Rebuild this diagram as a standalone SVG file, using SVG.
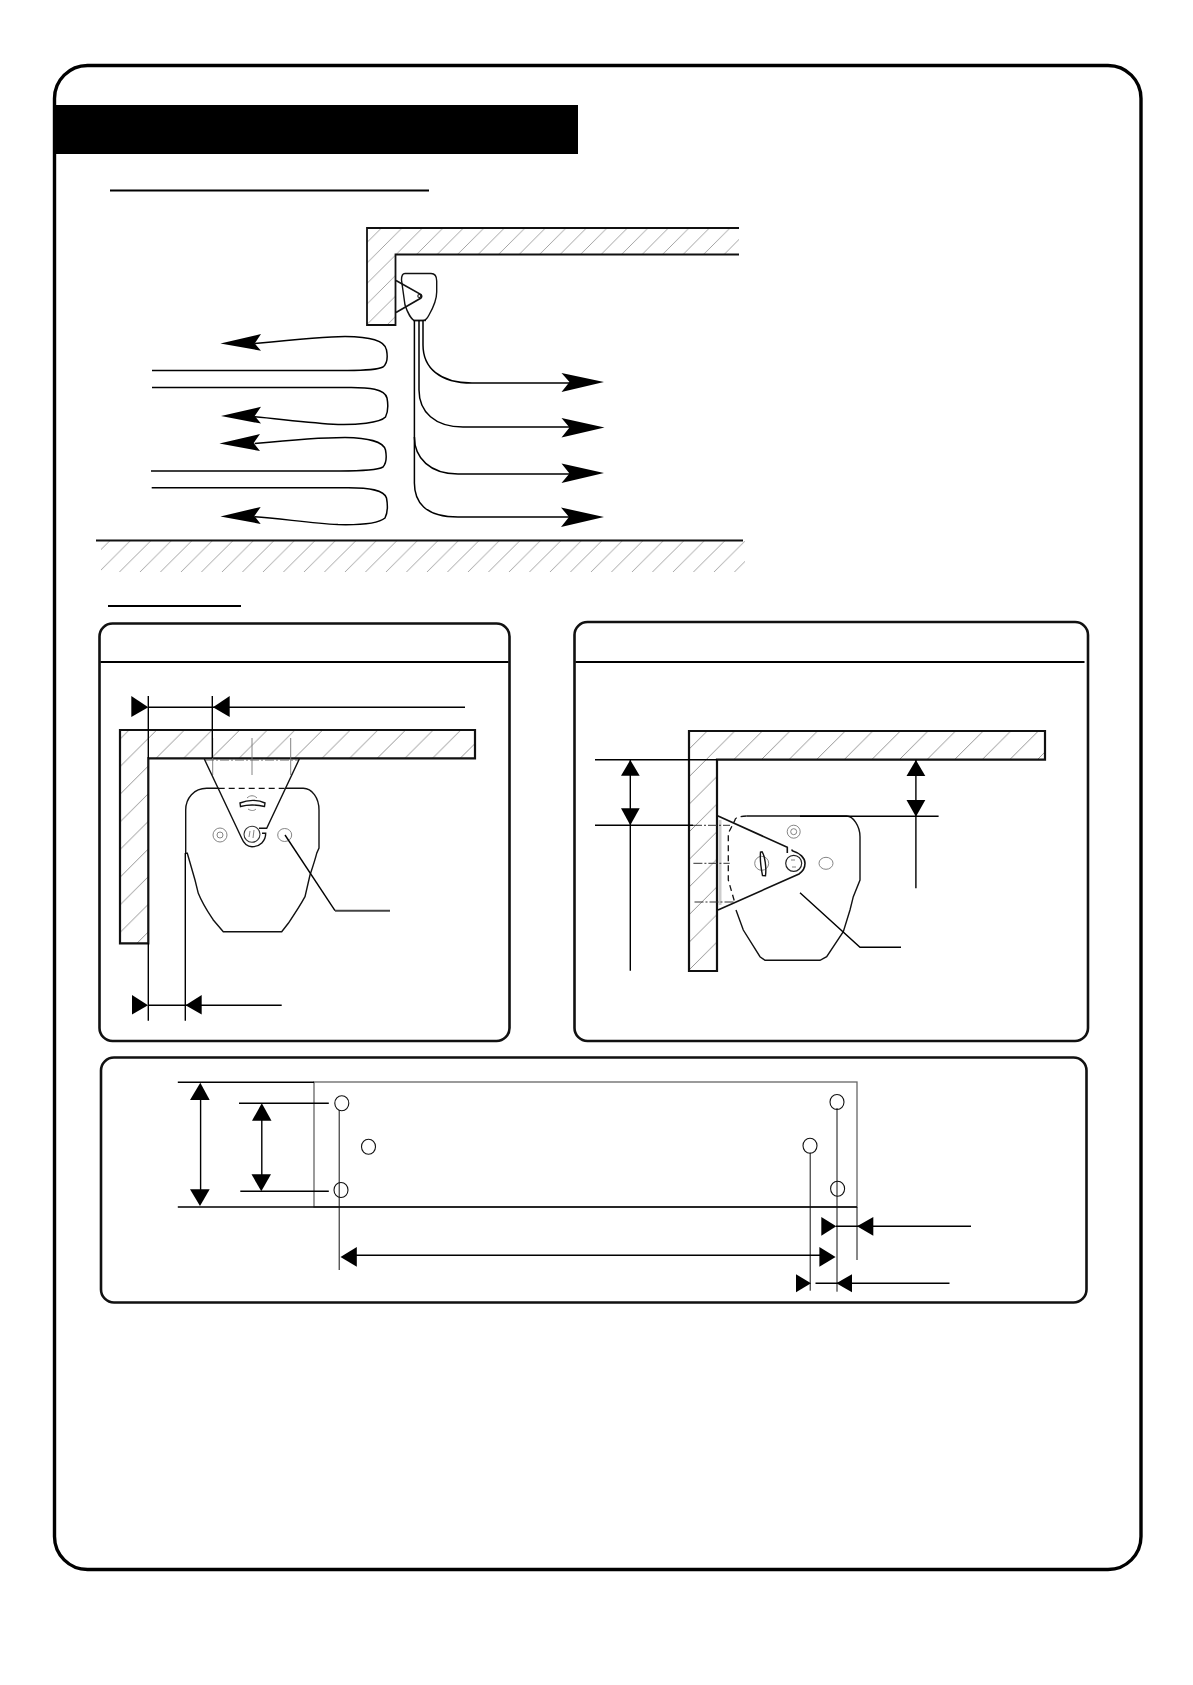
<svg xmlns="http://www.w3.org/2000/svg" width="1193" height="1685" viewBox="0 0 1193 1685">
<style>
.frame{fill:none;stroke:#000;stroke-width:3.4}
.panel{fill:#fff;stroke:#111;stroke-width:2.6}
.rule{stroke:#000;stroke-width:2.2;fill:none}
.ln{fill:none;stroke:#000;stroke-width:1.4}
.flow{fill:none;stroke:#000;stroke-width:1.5}
.thin{fill:none;stroke:#111;stroke-width:1}
.out{fill:none;stroke:#111;stroke-width:1.4}
.gr{fill:none;stroke:#777;stroke-width:.9}
.dash{fill:none;stroke:#111;stroke-width:1.3;stroke-dasharray:6 4}
.dashg{fill:none;stroke:#666;stroke-width:1;stroke-dasharray:9 2 2 2}
.head{fill:#000;stroke:none}
.hole{fill:#fff;stroke:#111;stroke-width:1.1}
</style>
<defs>
<pattern id="hatch" patternUnits="userSpaceOnUse" width="20.500" height="20.500" patternTransform="translate(15 0)"><path d="M-2 22.500L22.500 -2" stroke="#999" stroke-width=".9"/></pattern>
<pattern id="hatch2" patternUnits="userSpaceOnUse" width="27.650" height="27.650" patternTransform="translate(1.900 0)"><path d="M-2 29.650L29.650 -2" stroke="#888" stroke-width=".9"/></pattern>
<pattern id="hatch3" patternUnits="userSpaceOnUse" width="27.600" height="27.600" patternTransform="translate(3 0)"><path d="M-2 29.600L29.600 -2" stroke="#888" stroke-width=".9"/></pattern>
</defs>
<rect width="1193" height="1685" fill="#fff"/>
<rect class="frame" x="54.500" y="65.500" width="1086.500" height="1504" rx="33"/>
<g id="title"><rect x="56" y="105" width="522" height="49" fill="#000"/></g>
<g id="underline-1"><path class="rule" d="M110 190.500H429"/></g>
<g id="underline-2"><path class="rule" d="M108 606H241"/></g>

<g id="room">
<path fill="url(#hatch)" d="M367 228H739V254.500H395.500V325H367Z"/>
<path class="out" style="stroke-width:1.8" d="M739 228H367V325H395.500V254.500H739"/>
</g>
<g id="unit-side">
<path class="out" fill="#fff" d="M405 273.500H431C435 273.500 436.700 276 436.700 281V292C436.700 300 433 308 429 315C427 319 425 320.500 423 320.500H414C411 319 407 311 405 305L401.500 280C401.500 276 403 273.500 405 273.500Z"/>
<path class="out" style="stroke-width:1.6" fill="#fff" d="M396 280.500L421 294.500C422 296 422 297 421 298L396 312.500"/>
<circle class="out" style="stroke-width:1.1" cx="419.300" cy="296" r="1.500"/>
<path class="out" d="M413.500 320.500H426"/>
</g>
<g id="floor">
<rect x="101" y="541" width="644" height="31" fill="url(#hatch)"/>
<path d="M96 540.500H743" stroke="#111" stroke-width="2.2"/>
</g>

<g id="connectors-flow">
<path class="flow" d="M254.700 343.600C300 339 325 336.500 345 336.500C370 337 385 340 386.500 350C388 358 387 364 383 367C375 371 355 370.400 340 370.400H152"/>
<path class="flow" d="M152 387.500H345C370 387 385 389 387 398C388.500 406 388 412 385.500 417C380 423 355 425 338 424.500C310 423 280 419 254.700 416.800"/>
<path class="flow" d="M254.700 443.600C300 439 325 437.500 345 437.500C368 438 383 441 385.500 450C387 458 386.500 463 383 467C376 471 355 471 340 471H151"/>
<path class="flow" d="M151.700 487.800H345C370 487.500 384 490 386.500 498C388 506 388 512 385 518C378 524 355 525 338 524.600C310 523 280 518.500 254.700 516.800"/>
<polygon class="head" points="220.400,343.600 261,334 254.700,343.600 261,350.700"/>
<polygon class="head" points="221,416 261,406.800 254.700,416 261,423.600"/>
<polygon class="head" points="219.400,443.600 260,434 253.700,443 260,451"/>
<polygon class="head" points="220.400,516.400 260.700,507 254.400,516 260.700,524"/>
<path class="flow" d="M423 320.500V345C423 368 440 383 472 383H570"/>
<path class="flow" d="M419 320.500V390C419 412 435 427 463 427H570"/>
<path class="flow" d="M414.400 320.500V437C414.400 458 430 474 458 474H570"/>
<path class="flow" d="M414.400 437V482C414 502 425 517 458 517H570"/>
<polygon class="head" points="604,382 561.500,373 569.500,382 561.500,392"/>
<polygon class="head" points="604.500,427.500 561.500,418 569.500,427.500 561.500,437.500"/>
<polygon class="head" points="604,473 561.500,463.600 569.500,473.500 561.500,483"/>
<polygon class="head" points="604,517 561,507.500 569,517 561,527"/>
</g>

<g id="panel-ceiling">
<rect class="panel" x="99.500" y="623.500" width="410" height="417.500" rx="13"/>
<path class="rule" d="M100.500 662H508.500"/>
<path fill="url(#hatch2)" d="M120 730H475V758.300H148.300V943.300H120Z"/>
<path class="out" style="stroke-width:2.2" d="M120 730H475V758.300H148.300V943.300H120Z"/>
<path class="gr" d="M212.700 738V775M252 738V775M290.700 738V775"/>
<path class="dashg" d="M205 760H299"/>
<path class="dash" d="M218.700 788.300H285.700"/>
<path class="out" d="M218.700 788.300H206.700C194 788.300 185.700 798 185.700 810V853.300H187.300L195 880L198.300 893.300C203 905 208 912 213.300 920L223.300 931.700H281.700L288.300 923.300C296 912 301 904 305 896.700L310 875C313 866 315 860 316.700 853.300L319 848V810C319 798 312 788.300 303.300 788.300H285.700"/>
<circle cx="252" cy="834.300" r="8" fill="#fff" stroke="#333" stroke-width="1.100"/>
<path class="gr" d="M250 831L249 837M254 830L253 838"/>
<path class="out" d="M204.300 759L241.700 838.300C244 844 248 846.700 252 846.700C260 846.700 265.700 841 265.700 833.300H262M259 828.300H266.700L299.300 759"/>
<path class="out" d="M240 803C248 799.500 258 799.500 265 803L264.500 806.500C256 804.500 248 804.500 240.500 806.500Z"/>
<path class="gr" d="M247 798C250 795 254 795 257 798M248 809C251 811 254 811 256 809"/>
<circle class="gr" cx="220" cy="835" r="7"/><circle class="gr" cx="220" cy="835" r="3"/>
<ellipse class="gr" cx="284.700" cy="835" rx="7" ry="6.500"/>
</g>

<g id="panel-wall">
<rect class="panel" x="574.500" y="622" width="513.500" height="419" rx="13"/>
<path class="rule" d="M575.500 662H1084.500"/>
<path fill="url(#hatch3)" d="M689 731H1045V759.700H717V971H689Z"/>
<path class="out" style="stroke-width:2.2" d="M689 731H1045V759.700H717V971H689Z"/>
<path d="M720 820V905" stroke="#ccc" stroke-width="3" fill="none"/>
<path class="dashg" style="stroke:#333" d="M693 825.300H730M693.400 863.300H729.700M694.500 902H735.500"/>
<path class="dash" d="M746.700 816C739 816 735 818 735 820L728.300 833.300V880L735 903.300"/>
<path class="out" d="M736 910L743.300 930L760 956.700L765 960.300H820L826.700 956.700L843.300 931.700L850 910L853.300 896.700L860 880V836.700C860 826 853 816 846.700 816H746.700"/>
<circle cx="793.700" cy="863.300" r="8" fill="#fff" stroke="#222" stroke-width="1.200"/>
<path class="gr" d="M791 860H795M792 867H796"/>
<path class="out" style="stroke-width:1.6" d="M717.500 815.700L787.300 847.300V853M791.700 849.500L792.300 850.700C800 853 805 858 805 863.300C805 868 802 872 799 874L718 910"/>
<ellipse class="gr" cx="761.700" cy="863.300" rx="7" ry="7"/>
<path class="out" d="M762 851.700C765 856 766.500 868 765.500 875.700L762.500 875.500C761 868 760 858 760.500 852Z"/>
<circle class="gr" cx="793.700" cy="831.700" r="6.500"/><circle class="gr" cx="793.700" cy="831.700" r="3"/>
<ellipse class="gr" cx="826" cy="863.300" rx="7" ry="6"/>
</g>

<g id="panel-holes">
<rect class="panel" x="101" y="1057.500" width="985.500" height="245" rx="13"/>
<rect x="314" y="1082" width="543" height="125" fill="#fff" stroke="#666" stroke-width="1.300"/>
<ellipse class="hole" cx="341.800" cy="1103.300" rx="7" ry="7.500"/>
<ellipse class="hole" cx="341" cy="1190" rx="7" ry="7.500"/>
<ellipse class="hole" cx="368.500" cy="1146.700" rx="7" ry="7.500"/>
<ellipse class="hole" cx="810" cy="1145.700" rx="7" ry="7.500"/>
<ellipse class="hole" cx="837" cy="1102" rx="7" ry="7.500"/>
<ellipse class="hole" cx="837.600" cy="1188.700" rx="7" ry="7.500"/>
</g>

<g id="connectors-dimensions">
<path class="ln" d="M148.300 696V758M212.300 696V758M148.300 707.300H465"/>
<polygon class="head" points="131.300,696 148.300,707.300 131.300,717"/>
<polygon class="head" points="213,707.300 229.700,696 229.700,717"/>
<path class="ln" d="M148.300 943V1020.700M185.300 853V1020.700M148.300 1005.300H281.700"/>
<polygon class="head" points="132,995 148,1005.300 132,1014.500"/>
<polygon class="head" points="185.500,1005.300 201.700,995 201.700,1014.500"/>
<path d="M285 835L335 910.700" class="ln"/><path d="M335 910.700H390" stroke="#444" stroke-width="2" fill="none"/>

<path class="ln" d="M595 759.700H717M595 825.300H693M630.300 760V970.700"/>
<polygon class="head" points="630.300,760 639.700,775.700 621,775.700"/>
<polygon class="head" points="630.300,825.300 621,808.300 639.700,808.300"/>
<path class="ln" d="M915.900 760V888.300M800 816.300H938.600"/>
<polygon class="head" points="915.900,760 925.300,776 906.500,776"/>
<polygon class="head" points="915.900,816.700 906.500,800 925.300,800"/>
<path class="ln" d="M800 892.700L860 947.300H901"/>

<path class="ln" d="M177.800 1082.300H314M177.800 1207H857M239 1103.300H328.800M240.300 1191.300H328.800M200.600 1090V1200M261.800 1110V1180"/>
<polygon class="head" points="200.300,1082.700 209.700,1100 190,1100"/>
<polygon class="head" points="200,1206 190,1189.300 209.700,1189.300"/>
<polygon class="head" points="261.800,1103.300 271.500,1120.700 252,1120.700"/>
<polygon class="head" points="261.300,1191.300 251.500,1174.300 271,1174.300"/>
<path class="thin" d="M339.200 1110V1270M837 1108V1291.700M810.200 1152.700V1290.700M857 1207V1260"/>
<path class="ln" d="M345 1255.300H830"/>
<polygon class="head" points="340.500,1257 356.800,1247 356.800,1266.700"/>
<polygon class="head" points="835.600,1257 819.400,1247 819.400,1266.700"/>
<path class="ln" d="M836 1226.300H971"/>
<polygon class="head" points="821.300,1217 836.300,1226.300 821.300,1235.700"/>
<polygon class="head" points="857,1226.300 873.300,1217 873.300,1235.700"/>
<path class="ln" d="M815.500 1283.300H949.500"/>
<polygon class="head" points="796,1274.300 811,1283.300 796,1292.300"/>
<polygon class="head" points="836.300,1283.300 852,1274.300 852,1292.300"/>
</g>
</svg>
